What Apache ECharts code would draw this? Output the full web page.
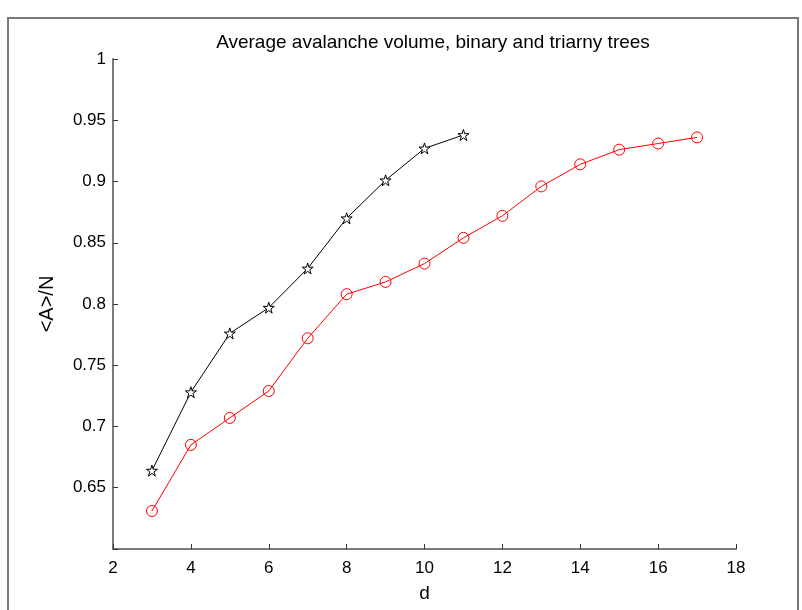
<!DOCTYPE html>
<html>
<head>
<meta charset="utf-8">
<script src="https://cdn.jsdelivr.net/npm/echarts@6/dist/echarts.min.js"></script>
<style>
  html, body { margin: 0; padding: 0; background: #fff; }
  #chart { width: 802px; height: 610px; }
</style>
</head>
<body>
<div id="chart"></div>
<script>
// Tree depth d
const binaryDepth = [3, 4, 5, 6, 7, 8, 9, 10, 11];
const triaryDepth = [3, 4, 5, 6, 7, 8, 9, 10, 11, 12, 13, 14, 15, 16, 17];

// Average avalanche volume <A>/N
const binaryVolume = [0.664, 0.728, 0.776, 0.797, 0.829, 0.870, 0.901, 0.927, 0.938];
const triaryVolume = [0.631, 0.685, 0.707, 0.729, 0.772, 0.808, 0.818, 0.833, 0.854,
                      0.872, 0.896, 0.914, 0.926, 0.931, 0.936];

const xTicks = [2, 4, 6, 8, 10, 12, 14, 16, 18];
const yTicks = [0.6, 0.65, 0.7, 0.75, 0.8, 0.85, 0.9, 0.95, 1];

const STAR = 'path://M50,0L61.2,34.5L97.6,34.5L68.2,55.9L79.4,90.5L50,69.1L20.6,90.5L31.8,55.9L2.4,34.5L38.8,34.5Z';
const FONT = 'Liberation Sans, Arial, sans-serif';

const chart = echarts.init(document.getElementById('chart'), null, { renderer: 'canvas' });

const pairs = (xs, ys) => xs.map((x, i) => [x, ys[i]]);

chart.setOption({
  animation: false,
  backgroundColor: '#ffffff',
  title: {
    text: 'Average avalanche volume, binary and triarny trees',
    left: 428, top: 28, textAlign: 'center',
    textStyle: { fontFamily: FONT, fontSize: 19, fontWeight: 'normal', color: '#000' }
  },
  graphic: [{
    type: 'rect',
    shape: { x: 8, y: 18, width: 790, height: 700 },
    style: { fill: 'none', stroke: '#7a7a7a', lineWidth: 2 },
    silent: true
  }],
  grid: { left: 113, right: 66, top: 59, bottom: 61, containLabel: false },
  xAxis: {
    type: 'value',
    min: xTicks[0], max: xTicks[xTicks.length - 1], interval: 2,
    name: 'd', nameLocation: 'middle', nameGap: 35,
    nameTextStyle: { fontFamily: FONT, fontSize: 19, color: '#000' },
    axisLine: { show: true, onZero: false, lineStyle: { color: '#7a7a7a', width: 2 } },
    axisTick: { show: true, inside: true, length: 5, lineStyle: { color: '#333', width: 1 } },
    axisLabel: { fontFamily: FONT, fontSize: 17, color: '#000', margin: 11 },
    splitLine: { show: false }
  },
  yAxis: {
    type: 'value',
    min: yTicks[0], max: yTicks[yTicks.length - 1], interval: 0.05,
    name: '<A>/N', nameLocation: 'middle', nameGap: 56, nameRotate: 90,
    nameTextStyle: { fontFamily: FONT, fontSize: 20, color: '#000' },
    axisLine: { show: true, onZero: false, lineStyle: { color: '#7a7a7a', width: 2 } },
    axisTick: { show: true, inside: true, length: 5, lineStyle: { color: '#333', width: 1 } },
    axisLabel: {
      fontFamily: FONT, fontSize: 17, color: '#000', margin: 7,
      formatter: v => (Math.abs(v - 0.6) < 1e-9 ? '' : String(+v.toFixed(2)))
    },
    splitLine: { show: false }
  },
  series: [
    {
      name: 'binary',
      type: 'line',
      data: pairs(binaryDepth, binaryVolume),
      symbol: STAR, symbolSize: 11,
      lineStyle: { color: '#000', width: 1 },
      itemStyle: { color: '#fff', borderColor: '#000', borderWidth: 1 }
    },
    {
      name: 'triary',
      type: 'line',
      data: pairs(triaryDepth, triaryVolume),
      symbol: 'circle', symbolSize: 11,
      lineStyle: { color: '#ff0000', width: 1 },
      itemStyle: { color: 'rgba(255,255,255,0)', borderColor: '#ff0000', borderWidth: 1 }
    }
  ]
});
</script>
</body>
</html>
